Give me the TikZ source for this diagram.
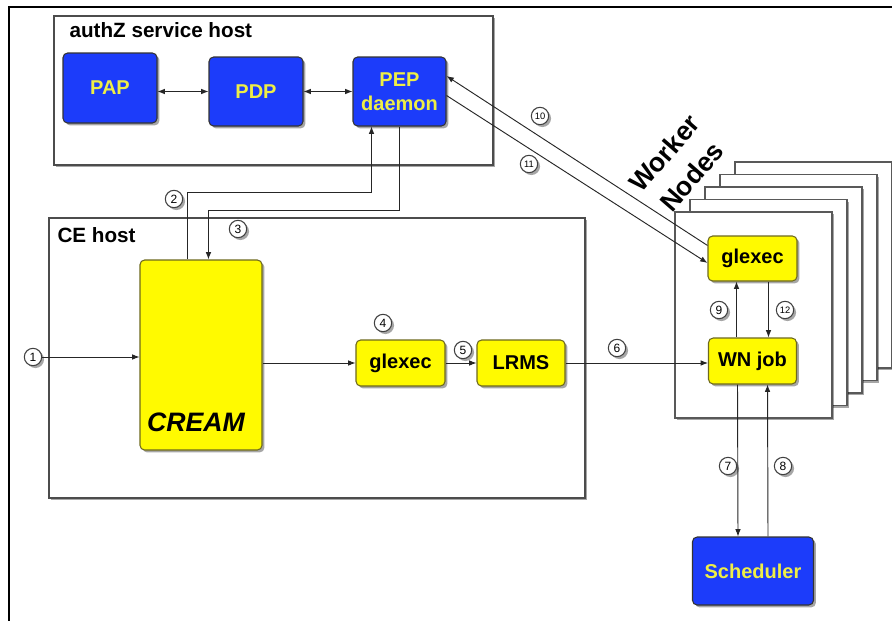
\documentclass[tikz,border=0pt]{standalone}
\usepackage{fontspec}
\setmainfont{Liberation Sans}
\usetikzlibrary{arrows.meta,shadows,calc}
\definecolor{colBlue}{RGB}{28,60,250}
\definecolor{colBText}{RGB}{238,238,70}
\definecolor{colYel}{RGB}{255,250,0}
\definecolor{colYBorder}{RGB}{110,105,30}
\newcommand{\boxfnt}{\bfseries\fontsize{15}{17}\selectfont}
\newcommand{\titlefnt}{\bfseries\fontsize{15.5}{18}\selectfont}
\tikzset{
  shad/.style={drop shadow={shadow xshift=1.8pt,shadow yshift=-1.8pt,opacity=0.35,fill=black}},
  host/.style={draw=black!70, line width=1.1pt, fill=white, shad, inner sep=0pt},
  wnbox/.style={draw=black!65, line width=1.1pt, fill=white, shad, inner sep=0pt,
     minimum width=117.75pt, minimum height=154.5pt},
  bluebox/.style={draw=black!80, line width=0.8pt, fill=colBlue, rounded corners=3.5pt,
     text=colBText, font=\boxfnt, align=center, inner sep=0pt, shad},
  yelbox/.style={draw=colYBorder, line width=0.8pt, fill=colYel, rounded corners=3.5pt,
     text=black, font=\boxfnt, align=center, inner sep=0pt, shad},
  num/.style={circle, draw=black!75, line width=0.8pt, fill=white, minimum size=13pt,
     inner sep=0pt, font=\fontsize{9}{10}\selectfont, shad},
  numsm/.style={num, font=\fontsize{7}{8}\selectfont},
  arr/.style={-{Latex[length=5.5pt,width=4.2pt]}, line width=0.7pt, draw=black!85},
  darr/.style={{Latex[length=5.5pt,width=4.2pt]}-{Latex[length=5.5pt,width=4.2pt]}, line width=0.7pt, draw=black!85}
}
\begin{document}
\begin{tikzpicture}[x=0.75pt,y=-0.75pt]
\useasboundingbox (0,0) rectangle (892,621);
\fill[white] (0,0) rectangle (892,621);
% outer frame
\draw[line width=1.6pt] (892,7) -- (9,7) -- (9,621);

% host boxes
\node[host, minimum width=329.25pt, minimum height=111.75pt] (authz) at (273.5,90.5) {};
\node[font=\titlefnt, anchor=west, inner sep=0pt] (authzt) at ($(authz.north west)+(16,15)$) {authZ service host};
\node[host, minimum width=402pt, minimum height=210pt] (ce) at (317,358) {};
\node[font=\titlefnt, anchor=west, inner sep=0pt] (cet) at ($(ce.north west)+(9,18)$) {CE host};

% worker node stack (back to front)
\node[wnbox] (wn5) at (813.5,265) {};
\node[wnbox] (wn4) at (798.5,277.5) {};
\node[wnbox] (wn3) at (783.5,290) {};
\node[wnbox] (wn2) at (768.5,302.5) {};
\node[wnbox] (wn1) at (753.5,315) {};
\node[rotate=49, align=center, font=\bfseries\fontsize{20}{27}\selectfont, inner sep=0pt] (wnt) at (678,165) {Worker\\Nodes};

% authZ components
\node[bluebox, minimum width=70.5pt, minimum height=52.5pt] (pap) at (110,88) {PAP};
\node[bluebox, minimum width=70.5pt, minimum height=51.75pt] (pdp) at (256,91.5) {PDP};
\node[bluebox, minimum width=69.75pt, minimum height=51.75pt] (pep) at (399.5,91.5) {PEP\\[1pt]daemon};

% CE components
\node[yelbox, minimum width=91.5pt, minimum height=142.5pt] (cream) at (201,355) {};
\node[font=\bfseries\itshape\fontsize{20}{22}\selectfont, inner sep=0pt] (creamt) at ($(cream.south)+(-5,-28)$) {CREAM};
\node[yelbox, minimum width=66.75pt, minimum height=34.5pt] (glx) at (400.5,363) {glexec};
\node[yelbox, minimum width=66pt, minimum height=34.5pt] (lrms) at (521,363) {LRMS};

% WN components
\node[yelbox, minimum width=66.75pt, minimum height=33.75pt] (wglx) at (752.5,258.5) {glexec};
\node[yelbox, minimum width=66pt, minimum height=34.5pt] (wnjob) at (752.5,361) {WN job};
\node[bluebox, minimum width=90.75pt, minimum height=51pt] (sched) at (753,571) {Scheduler};

% number circles
\node[num] (c1) at (33,357) {1};
\node[num] (c2) at (174,199) {2};
\node[num] (c3) at (238,229) {3};
\node[num] (c4) at (383,323) {4};
\node[num] (c5) at (463,350) {5};
\node[num] (c6) at (617,348) {6};
\node[num] (c7) at (728,466) {7};
\node[num] (c8) at (783,466) {8};
\node[num] (c9) at (719,310) {9};
\node[numsm] (c10) at (540,116) {10};
\node[numsm] (c11) at (529,164) {11};
\node[numsm] (c12) at (785,310) {12};

% connectors
\draw[darr] (pap.east |- pdp.west) -- (pdp.west);
\draw[darr] (pdp.east) -- (pep.west);
\draw[arr] (c1.east) -- (c1 -| cream.west);
\draw[arr] (cream.east |- glx.west) -- (glx.west);
\draw[arr] (glx.east) -- (lrms.west);
\draw[arr] (lrms.east) -- (lrms.east -| wnjob.west);
\draw[arr] ($(cream.north west)+(48,0)$) -- ++(0,-67) -| ($(pep.south)+(-28,0)$);
\draw[arr] (pep.south) -- ++(0,84) -| ($(cream.north west)+(69,0)$);
\draw[arr] ($(wglx.north west)+(0,10)$) -- ($(pep.east)+(0,-15.5)$);
\draw[arr] ($(pep.east)+(0,4)$) -- ($(wglx.west)+(0,4.5)$);
\draw[arr] ([xshift=-12pt]wnjob.north) -- ([xshift=-12pt]wglx.south);
\draw[arr] ([xshift=12pt]wglx.south) -- ([xshift=12pt]wnjob.north);
\draw[arr] ([xshift=-11.25pt]wnjob.south) -- ([xshift=-11.25pt]sched.north);
\draw[arr] ([xshift=11.25pt]sched.north) -- ([xshift=11.25pt]wnjob.south);
\end{tikzpicture}
\end{document}
